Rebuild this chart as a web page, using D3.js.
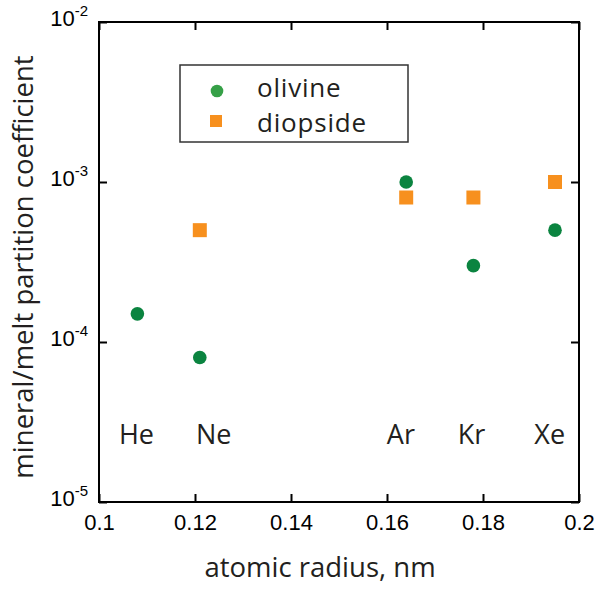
<!DOCTYPE html>
<html>
<head>
<meta charset="utf-8">
<script src="https://cdn.jsdelivr.net/npm/d3@7/dist/d3.min.js"></script>
<style>
  html, body { margin: 0; padding: 0; background: #fff; }
  svg { display: block; }
</style>
</head>
<body>
<svg id="chart" width="598" height="590"></svg>
<script>
// Noble gas partition coefficients between minerals and melt
const elements   = ["He", "Ne", "Ar", "Kr", "Xe"];
const radiusNm   = [0.108, 0.121, 0.164, 0.178, 0.195];
const olivine    = [1.5e-4, 8e-5, 1e-3, 3e-4, 5e-4];
const diopside   = [null, 5e-4, 8e-4, 8e-4, 1e-3];

// element label anchors (data units)
const labelX     = [0.1078, 0.1239, 0.1629, 0.1776, 0.1939];
const labelY     = 2.3e-5;

const xTicks     = [0.1, 0.12, 0.14, 0.16, 0.18, 0.2];
const xTickText  = ["0.1", "0.12", "0.14", "0.16", "0.18", "0.2"];
const yTicks     = [1e-5, 1e-4, 1e-3, 1e-2];
const yTickExp   = ["-5", "-4", "-3", "-2"];

const seriesNames = ["olivine", "diopside"];

const margin = { left: 99, right: 19, top: 22, bottom: 88 };
const W = 598, H = 590;
const x0 = margin.left, x1 = W - margin.right;
const y0 = margin.top, y1 = H - margin.bottom;

const svg = d3.select("#chart");
const x = d3.scaleLinear().domain([0.1, 0.2]).range([x0, x1]);
const y = d3.scaleLog().domain([1e-5, 1e-2]).range([y1, y0]);

const sans = "'Liberation Sans', Arial, Helvetica, sans-serif";
const human = "'Open Sans', 'Noto Sans', sans-serif";
const textColor = "#231f20";
const green = "#0b8440";
const greenLegend = "#36a047";
const orange = "#f7901e";

// bottom axis with labels
const gx = svg.append("g")
  .attr("transform", `translate(0,${y1})`)
  .call(d3.axisBottom(x).tickValues(xTicks)
    .tickFormat((d, i) => xTickText[i])
    .tickSize(-8).tickSizeOuter(0).tickPadding(11));
gx.attr("font-family", sans).attr("font-size", 22);
gx.selectAll("text").attr("fill", "#000").attr("dy", "0.78em");

// top mirror axis
svg.append("g")
  .attr("transform", `translate(0,${y0})`)
  .call(d3.axisTop(x).tickValues(xTicks).tickFormat("")
    .tickSize(-8).tickSizeOuter(0));

// left axis (ticks only; labels drawn as powers of ten)
svg.append("g")
  .attr("transform", `translate(${x0},0)`)
  .call(d3.axisLeft(y).tickValues(yTicks).tickFormat("")
    .tickSize(-8).tickSizeOuter(0))
  .selectAll(".tick text").remove();

const yLabels = svg.append("g").attr("font-family", sans).attr("fill", "#000");
yTicks.forEach((v, i) => {
  const yy = y(v);
  const sup = yLabels.append("text")
    .attr("x", x0 - 11).attr("y", yy - 6)
    .attr("text-anchor", "end")
    .style("font-size", "15px")
    .text(yTickExp[i]);
  const w = sup.node().getComputedTextLength();
  yLabels.append("text")
    .attr("x", x0 - 11 - w).attr("y", yy + 4)
    .attr("text-anchor", "end")
    .style("font-size", "22px")
    .text("10");
});

// right mirror axis
svg.append("g")
  .attr("transform", `translate(${x1},0)`)
  .call(d3.axisRight(y).tickValues(yTicks).tickFormat("")
    .tickSize(-8).tickSizeOuter(0));

svg.selectAll(".tick line").attr("stroke", "#000").attr("stroke-width", 2);
svg.selectAll(".domain").remove();

// plot frame
svg.append("rect")
  .attr("x", x0).attr("y", y0)
  .attr("width", x1 - x0).attr("height", y1 - y0)
  .attr("fill", "none").attr("stroke", "#000").attr("stroke-width", 2);

// diopside squares
const sq = 14;
const dioData = elements.map((e, i) => ({ r: radiusNm[i], v: diopside[i] })).filter(d => d.v != null);
svg.append("g").selectAll("rect")
  .data(dioData).join("rect")
  .attr("x", d => x(d.r) - sq / 2).attr("y", d => y(d.v) - sq / 2)
  .attr("width", sq).attr("height", sq).attr("fill", orange);

// olivine circles
const olData = elements.map((e, i) => ({ r: radiusNm[i], v: olivine[i] }));
svg.append("g").selectAll("circle")
  .data(olData).join("circle")
  .attr("cx", d => x(d.r)).attr("cy", d => y(d.v))
  .attr("r", 6.8).attr("fill", green);

// element labels
svg.append("g").selectAll("text")
  .data(elements).join("text")
  .attr("x", (d, i) => x(labelX[i])).attr("y", y(labelY))
  .attr("text-anchor", "middle")
  .attr("font-family", human).attr("font-size", 27).attr("fill", textColor)
  .text(d => d);

// legend
const lg = svg.append("g");
lg.append("rect").attr("x", 180).attr("y", 65).attr("width", 228).attr("height", 77)
  .attr("fill", "#fff").attr("stroke", "#333").attr("stroke-width", 1.5);
lg.append("circle").attr("cx", 217).attr("cy", 91).attr("r", 6.3).attr("fill", greenLegend);
lg.append("rect").attr("x", 210).attr("y", 115).attr("width", 12).attr("height", 12).attr("fill", orange);
lg.selectAll("text.lbl").data(seriesNames).join("text")
  .attr("class", "lbl")
  .attr("x", 257).attr("y", (d, i) => 96.5 + i * 35.5)
  .attr("font-family", human).attr("font-size", 26)
  .attr("letter-spacing", 0.8).attr("fill", textColor)
  .text(d => d);

// axis titles
svg.append("text")
  .attr("x", 320).attr("y", 577).attr("text-anchor", "middle")
  .attr("font-family", human).attr("font-size", 27.5).attr("fill", textColor)
  .text("atomic radius, nm");

svg.append("text")
  .attr("transform", "translate(33,267) rotate(-90)")
  .attr("text-anchor", "middle")
  .attr("font-family", human).attr("font-size", 27.5).attr("fill", textColor)
  .text("mineral/melt partition coefficient");
</script>
</body>
</html>
